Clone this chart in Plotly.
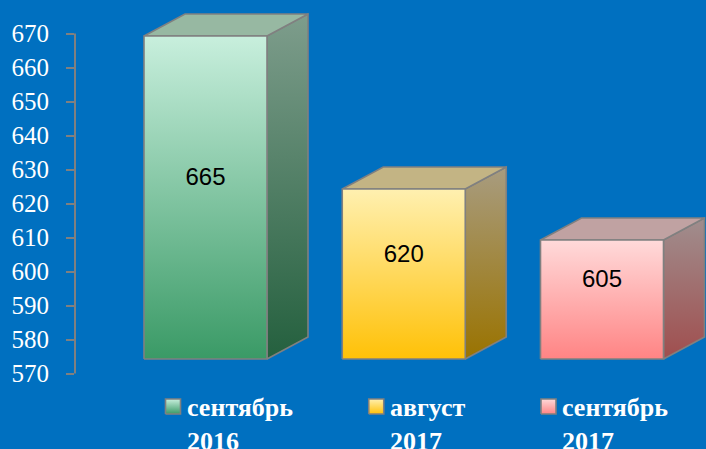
import plotly.graph_objects as go

# ---- data ----
categories = ["сентябрь<br>2016", "август<br>2017", "сентябрь<br>2017"]
values = [665, 620, 605]
tick_vals = [570, 580, 590, 600, 610, 620, 630, 640, 650, 660, 670]
base_value = 570

# ---- styles ----
front_colors = [("#3A9A66", "#C8EFDD"), ("#FFC107", "#FFF0B0"), ("#FF8484", "#FFDADA")]  # (bottom, top)
side_colors = [("#24603E", "#7E9D8C"), ("#9A7300", "#A89C80"), ("#A04E4E", "#A08E8E")]
top_colors = ["#97B8A2", "#C3B484", "#C0A2A2"]
legend_colors = [("#3A9A66", "#C8EFDD"), ("#FFC107", "#FFF0B0"), ("#FF8484", "#FFDADA")]
BG = "#0070C0"
EDGE = "#808080"

W, H = 706, 449
L = 75
PX_PER_Y = 3.4
TICK_BASE_PX = 373.5     # pixel row of the lowest tick
FRONT_BASE_PX = 359      # pixel row of the bar front bottom
PX_PER_X = 198.25
FIRST_CENTER_PX = 205.5

x_lo = -(FIRST_CENTER_PX - L) / PX_PER_X
x_hi = (W - FIRST_CENTER_PX) / PX_PER_X
y_lo = base_value - (H - TICK_BASE_PX) / PX_PER_Y
y_hi = base_value + TICK_BASE_PX / PX_PER_Y
y2_lo = base_value - (H - FRONT_BASE_PX) / PX_PER_Y
y2_hi = base_value + FRONT_BASE_PX / PX_PER_Y

hw = 61.5 / PX_PER_X
dx = 41 / PX_PER_X
dy = 22 / PX_PER_Y

label_text_off_px = [-21, -16, -42]

fig = go.Figure()


def poly(xs, ys, grad=None, color=None, yaxis="y2"):
    kw = dict(x=xs + [xs[0]], y=ys + [ys[0]], mode="lines", fill="toself",
              line=dict(color=EDGE, width=1.6), hoverinfo="skip",
              showlegend=False, yaxis=yaxis)
    if grad is not None:
        kw["fillgradient"] = dict(type="vertical",
                                  colorscale=[[0, grad[0]], [1, grad[1]]])
    else:
        kw["fillcolor"] = color
    fig.add_trace(go.Scatter(**kw))


for i, v in enumerate(values):
    l, r = i - hw, i + hw
    b = base_value
    # side face
    poly([r, r + dx, r + dx, r], [b, b + dy, v + dy, v], grad=side_colors[i])
    # top face
    poly([l, r, r + dx, l + dx], [v, v, v + dy, v + dy], color=top_colors[i])
    # front face
    poly([l, r, r, l], [b, b, v, v], grad=front_colors[i])

# value labels
fig.add_trace(go.Scatter(
    x=list(range(len(values))),
    y=[(v + base_value) / 2 + 5.3 for v in values],
    text=[str(v) for v in values], mode="text",
    textfont=dict(family="Liberation Sans, Arial", size=24, color="black"),
    yaxis="y2", showlegend=False, hoverinfo="skip", cliponaxis=False))

# category labels with small legend squares
for i, c in enumerate(categories):
    tx = i + label_text_off_px[i] / PX_PER_X
    sq_l = tx - 19 / PX_PER_X
    sq_r = tx - 4 / PX_PER_X
    sq_t = base_value - (399 - TICK_BASE_PX) / PX_PER_Y
    sq_b = base_value - (414 - TICK_BASE_PX) / PX_PER_Y
    poly([sq_l, sq_r, sq_r, sq_l], [sq_b, sq_b, sq_t, sq_t], grad=legend_colors[i], yaxis="y")
    fig.add_annotation(x=tx, xref="x", y=1 - 391 / H, yref="paper",
                       xanchor="left", yanchor="top", align="left", showarrow=False,
                       text=c, font=dict(family="Liberation Serif, Times New Roman",
                                         size=26, color="white", weight="bold"))

# axis line
fig.add_shape(type="line", xref="paper", x0=0, x1=0, yref="y",
              y0=tick_vals[0], y1=tick_vals[-1], line=dict(color=EDGE, width=2))

fig.update_layout(
    width=W, height=H,
    margin=dict(l=L, r=0, t=0, b=0),
    paper_bgcolor=BG, plot_bgcolor=BG,
    showlegend=False,
    hovermode=False,
    xaxis=dict(range=[x_lo, x_hi], visible=False, fixedrange=True),
    yaxis=dict(range=[y_lo, y_hi], tickvals=tick_vals, ticks="outside", ticklen=8,
               tickwidth=2, tickcolor=EDGE, showline=False, showgrid=False,
               zeroline=False, ticklabelstandoff=12, fixedrange=True,
               tickfont=dict(family="Liberation Serif, Times New Roman", size=25, color="white")),
    yaxis2=dict(range=[y2_lo, y2_hi], overlaying="y", visible=False, fixedrange=True),
)

fig.write_html("out.html",
               config={"displayModeBar": False, "staticPlot": True},
               post_script="document.body.style.margin='0';document.body.style.overflow='hidden';")
